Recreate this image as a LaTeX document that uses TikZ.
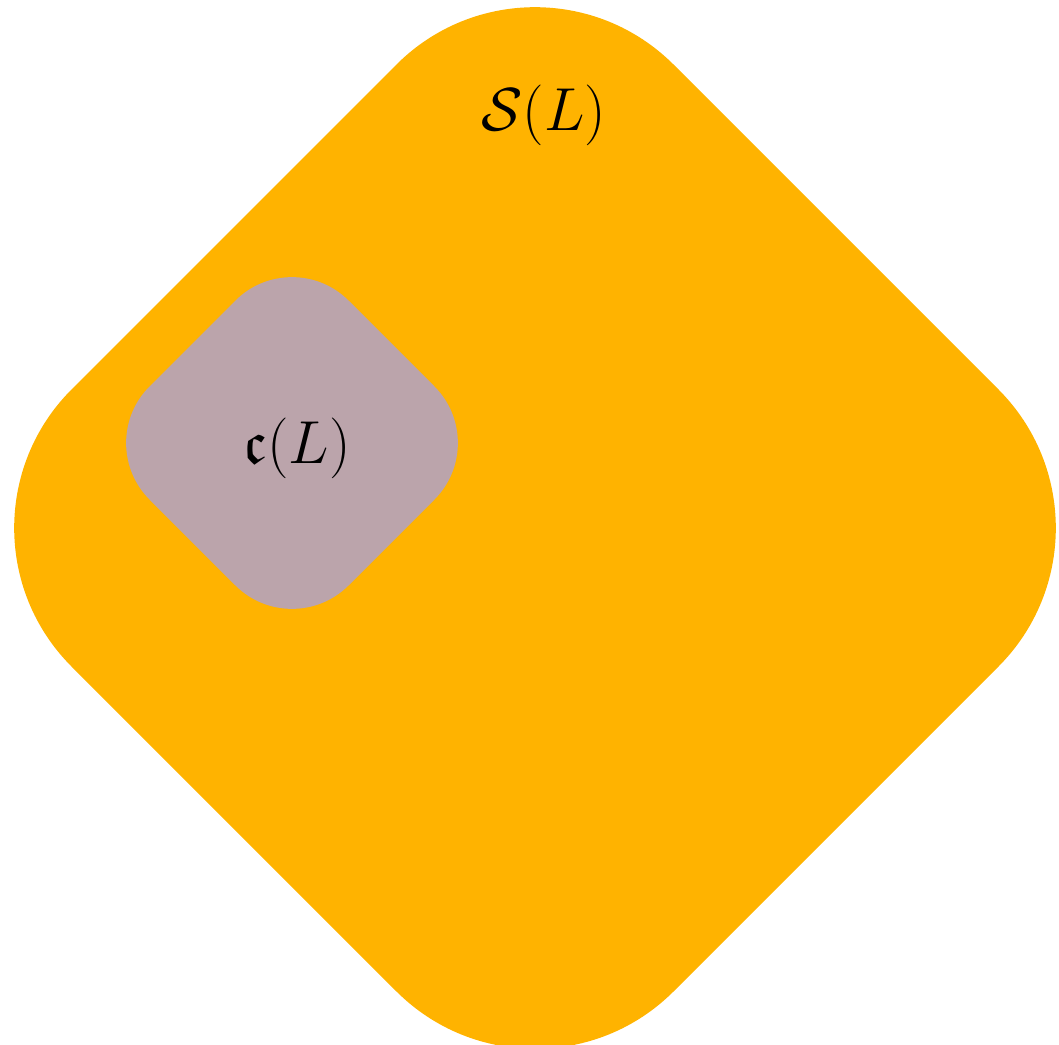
\documentclass[tikz,border=0pt]{standalone}
\usepackage{xcolor}
\usepackage{tikz}
\usepackage{amsmath,amssymb}
\usetikzlibrary{positioning,calc}
\definecolor{slOrange}{RGB}{255,179,  0}
\definecolor{clMauve} {RGB}{187,164,171}
\begin{document}
\begin{tikzpicture}[
  every node/.style={font=\LARGE},
  outerset/.style={fill=slOrange,rounded corners=1.96cm},
  innerset/.style={fill=clMauve,rounded corners=0.80cm}
]
\useasboundingbox (0,0) rectangle (10.59,10.44);

\coordinate (O) at (5.35,5.16);
\coordinate (C) at (2.92,6.01);

\fill[outerset] ($(O)+(0,6.02)$) -- ($(O)+(6.02,0)$) -- ($(O)+(0,-6.02)$)
                -- ($(O)+(-6.02,0)$) -- cycle;
\fill[innerset] ($(C)+(0,1.99)$) -- ($(C)+(1.99,0)$) -- ($(C)+(0,-1.99)$)
                -- ($(C)+(-1.99,0)$) -- cycle;

\node (SL) at (5.44,9.29) {$\mathcal{S}(L)$};
\node (cL) at (2.97,5.96) {$\mathfrak{c}(L)$};
\end{tikzpicture}
\end{document}
